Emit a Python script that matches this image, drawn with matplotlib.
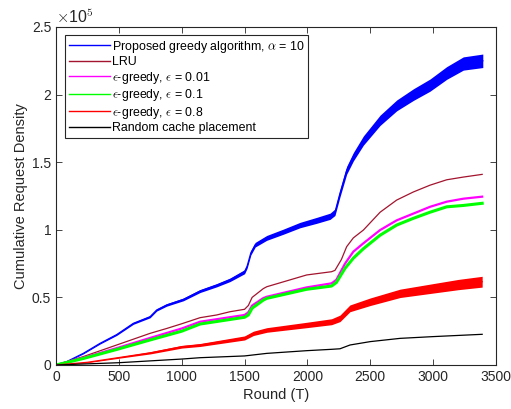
import numpy as np
import matplotlib
matplotlib.use("Agg")
import matplotlib.pyplot as plt

# ---------------- data (values in units of 1e3 requests) ----------------
t_prop = [0, 85, 217, 350, 483, 615, 748, 801, 880, 1013, 1146, 1278, 1384, 1500, 1520, 1550,
          1585, 1676, 1808, 1941, 2074, 2180, 2219, 2259, 2312, 2365, 2445, 2578, 2710, 2843,
          2975, 3108, 3240, 3395]
v_prop = [0, 2.5, 8.6, 16, 22.5, 30.8, 35.7, 40.7, 44.4, 48.5, 54.7, 59, 63, 69, 73, 83,
          89, 94, 98.6, 103.5, 107, 110, 113, 127, 144, 154, 166, 181, 192, 200,
          207, 216, 223, 225]
n_prop = [0, 0.2, 0.4, 0.5, 0.6, 0.7, 0.8, 0.8, 0.9, 1.0, 1.1, 1.2, 1.3, 1.5, 1.5, 1.6,
          1.7, 1.8, 1.9, 2.0, 2.2, 2.3, 2.4, 2.6, 2.9, 3.1, 3.4, 3.8, 4.0, 4.3,
          4.5, 4.7, 4.9, 5.0]

t_lru = [0, 217, 483, 748, 880, 1000, 1146, 1278, 1384, 1500, 1530, 1560, 1649, 1677, 1994,
         2192, 2219, 2270, 2312, 2365, 2445, 2578, 2710, 2843, 2975, 3108, 3240, 3390]
v_lru = [0, 6.2, 14.8, 23.4, 27.0, 30.5, 35, 37, 39.4, 41.2, 44, 50, 56.5, 57.9, 66.6,
         69, 70, 78, 87.5, 94, 99.8, 113, 122, 128, 133, 137, 139, 141]

t_eps = [0, 217, 483, 748, 1000, 1146, 1500, 1530, 1560, 1649, 1677, 1994, 2192, 2230,
         2299, 2365, 2445, 2578, 2710, 2843, 2975, 3108, 3240, 3390]
v_e001 = [0, 5.3, 12.5, 20, 27, 32, 37, 39, 44, 49.5, 50.5, 57.4, 60.4, 63,
          75, 83.8, 90, 99.8, 107, 112, 117, 120.8, 123, 124.5]
v_e01 = [0, 4.8, 11.5, 18.5, 25, 30.3, 35.3, 37, 42, 48, 49.3, 56, 58.4, 61,
         71.5, 79, 86, 96, 103.5, 108.5, 113, 117, 118, 119.6]

t_e08 = [0, 250, 500, 750, 1000, 1146, 1500, 1570, 1677, 1994, 2192, 2259, 2338, 2500,
         2737, 3000, 3200, 3390]
v_e08 = [0, 2, 5.5, 9, 13.5, 14.8, 20, 23.4, 25.9, 29.6, 32, 34.5, 41.9, 46.8,
         53, 56.7, 59.5, 61.6]
n_e08 = [0, 0.3, 0.5, 0.8, 1.0, 1.1, 1.5, 1.6, 1.7, 2.0, 2.2, 2.4, 2.5, 2.8,
         3.1, 3.5, 3.8, 4.0]

t_rand = [0, 500, 1000, 1146, 1500, 1677, 1994, 2192, 2259, 2339, 2500, 2737, 3000, 3390]
v_rand = [0, 1.7, 4.4, 5.4, 6.7, 8.6, 10.6, 11.6, 12, 14.8, 17.3, 19.7, 21, 22.7]

labels = ["Proposed greedy algorithm, $\\alpha$ = 10", "LRU",
          "$\\epsilon$-greedy, $\\epsilon$ = 0.01", "$\\epsilon$-greedy, $\\epsilon$ = 0.1",
          "$\\epsilon$-greedy, $\\epsilon$ = 0.8", "Random cache placement"]
x_ticks = [0, 500, 1000, 1500, 2000, 2500, 3000, 3500]
y_ticks = [0, 0.5, 1, 1.5, 2, 2.5]
y_tick_labels = ["0", "0.5", "1", "1.5", "2", "2.5"]

# ---------------- style ----------------
plt.rcParams['font.family'] = ['Liberation Sans', 'DejaVu Sans']
plt.rcParams['mathtext.fontset'] = 'cm'
SC = 1e3
c_blue = (0, 0, 1)
c_lru = (0.64, 0.08, 0.18)
c_mag = (1, 0, 1)
c_grn = (0, 1, 0)
c_red = (1, 0, 0)
c_blk = (0, 0, 0)
axcol = (0.15, 0.15, 0.15)

fig = plt.figure(figsize=(5.11, 4.09), dpi=100)
ax = fig.add_axes([56 / 511, 1 - 365 / 409, 440 / 511, 338 / 409])

def arr(v):
    return np.asarray(v, dtype=float) * SC

lw = 0.9
ax.fill_between(t_prop, arr(v_prop) - arr(n_prop), arr(v_prop) + arr(n_prop), color=c_blue, lw=0)
ax.plot(t_prop, arr(v_prop), color=c_blue, lw=lw, label=labels[0])
ax.plot(t_lru, arr(v_lru), color=c_lru, lw=lw, label=labels[1])
ax.plot(t_eps, arr(v_e001), color=c_mag, lw=1.6, label=labels[2])
ax.plot(t_eps, arr(v_e01), color=c_grn, lw=2.2, label=labels[3])
ax.fill_between(t_e08, arr(v_e08) - arr(n_e08), arr(v_e08) + arr(n_e08), color=c_red, lw=0)
ax.plot(t_e08, arr(v_e08), color=c_red, lw=lw, label=labels[4])
ax.plot(t_rand, arr(v_rand), color=c_blk, lw=lw, label=labels[5])

ax.set_xlim(0, 3500)
ax.set_ylim(0, 2.5e5)
ax.set_xticks(x_ticks)
ax.set_yticks([v * 1e5 for v in y_ticks])
ax.set_yticklabels(y_tick_labels)
ax.tick_params(direction='in', length=4, width=0.6, colors=axcol, labelsize=10,
               top=True, right=True, labelcolor=axcol)
for s in ax.spines.values():
    s.set_color(axcol)
    s.set_linewidth(0.8)
ax.set_xlabel("Round (T)", fontsize=10.5, color=axcol, labelpad=3)
ax.set_ylabel("Cumulative Request Density", fontsize=10.5, color=axcol, labelpad=3)
ax.text(0.0, 1.004, "$\\times$10$^{5}$", transform=ax.transAxes, fontsize=11.5, color=axcol,
        ha='left', va='bottom', family=['Liberation Sans', 'DejaVu Sans'])

leg = ax.legend(loc='upper left', bbox_to_anchor=(9 / 440, 1 - 8 / 338), fontsize=8.9,
                frameon=True, fancybox=False, handlelength=3.3, handletextpad=0.2,
                labelspacing=0.12, borderpad=0.3, borderaxespad=0)
leg.get_frame().set_edgecolor(axcol)
leg.get_frame().set_linewidth(0.8)
leg.get_frame().set_alpha(1)
for h in leg.get_lines():
    h.set_linewidth(1.0)

fig.savefig("out.png", dpi=100)
